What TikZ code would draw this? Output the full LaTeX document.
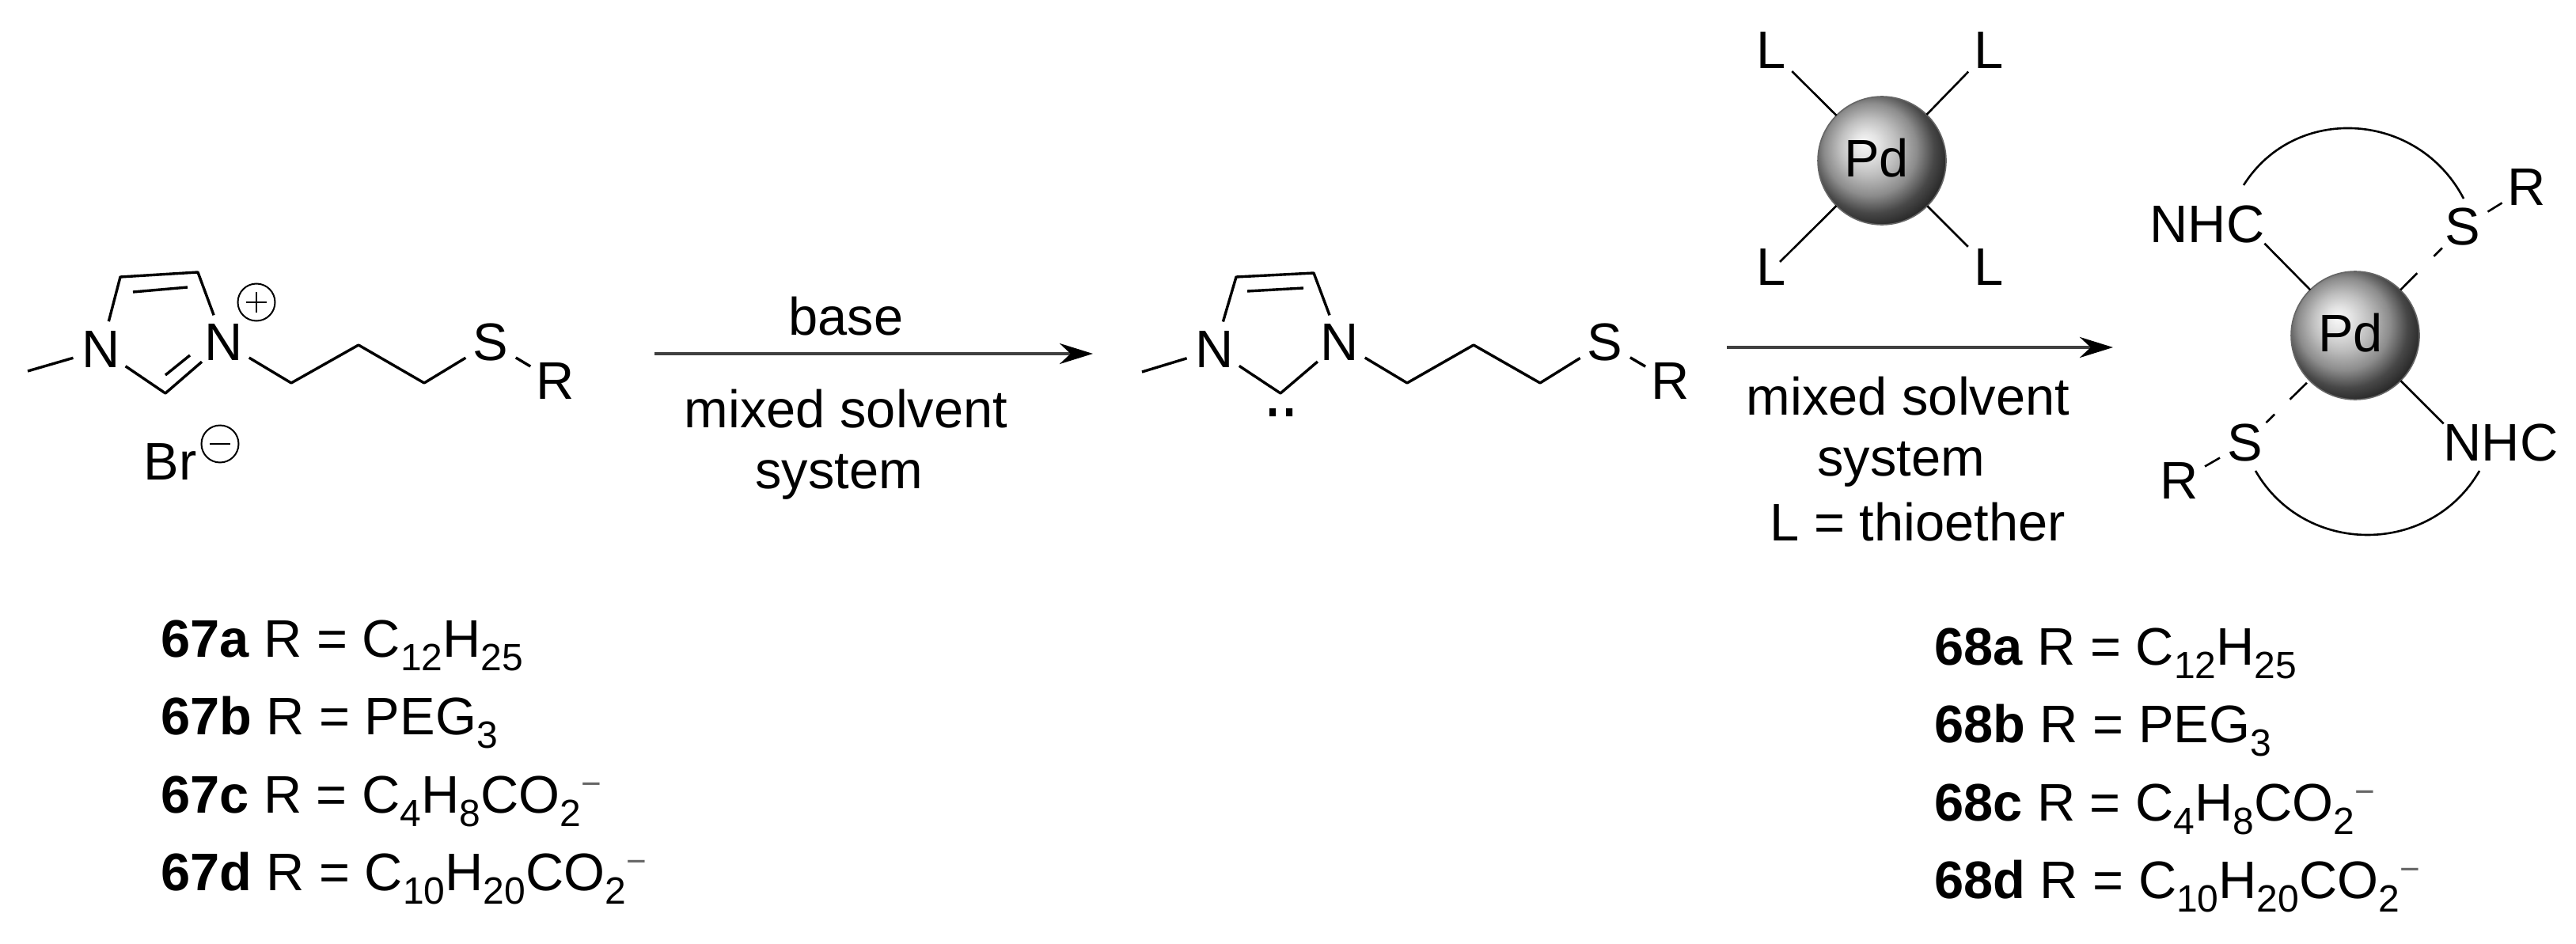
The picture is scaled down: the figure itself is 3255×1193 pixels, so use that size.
\documentclass[tikz,border=0pt]{standalone}
\usepackage{fontspec}
\setmainfont{Liberation Sans}
\usetikzlibrary{positioning,calc,arrows.meta}
\pgfdeclareradialshading{pdball}{\pgfpoint{-7bp}{7bp}}{color(0bp)=(gray!5!white); color(5bp)=(gray!22!white); color(11bp)=(gray!50!white); color(18bp)=(gray!90!white); color(24bp)=(black!72); color(31bp)=(black!90); color(50bp)=(black)}
\tikzset{post/.style={-{Stealth[length=21pt,width=13pt,black]},line width=2pt,black!75},
         bond/.style={line width=1.7pt},
         thin bond/.style={line width=1.3pt},
         atom/.style={circle,inner sep=0pt,outer sep=0pt,minimum size=37pt},
         lab/.style={inner sep=0pt,outer sep=0pt},
         metal/.style={circle,inner sep=0pt,outer sep=0pt,minimum size=81pt,shading=pdball,draw=black!60,line width=0.8pt},
         charge/.style={circle,draw,line width=1pt,inner sep=0pt,minimum size=23.5pt}
}
\newcommand{\txt}{\fontsize{33.4}{33.4}\selectfont}
\newcommand{\dn}[1]{\raisebox{-8.5pt}{\fontsize{24}{24}\selectfont #1}}
\newcommand{\up}{\raisebox{11pt}{\textcolor{black!60}{\fontsize{22}{22}\selectfont −}}}
\begin{document}
\begin{tikzpicture}[x=0.5pt,y=-0.5pt,every node/.append style={font=\txt}]
  \useasboundingbox (0,0) rectangle (3255,1193);
  % first salt
  \node[atom] (Na) at (128,442) {N};
  \node[atom] (Nb) at (283,433) {N};
  \node[atom] (Sa) at (620,433) {S};
  \node[atom] (Ra) at (702,482) {R};
  \coordinate (me) at (35,469);
  \coordinate (c4) at (152,350);
  \coordinate (c5) at (250,344);
  \coordinate (c2) at (209,497);
  \coordinate (ca) at (368,484);
  \coordinate (cb) at (453,436);
  \coordinate (cc) at (536,484);
  \coordinate (d1) at (168,369);
  \coordinate (d2) at (237,363);
  \coordinate (d3) at (209,474);
  \coordinate (d4) at (240,449);
  \draw[bond,line join=round] (me) -- (Na) (Na) -- (c4) -- (c5) -- (Nb) (Nb) -- (c2) -- (Na);
  \draw[bond] (d1) -- (d2) (d3) -- (d4);
  \draw[bond,line join=round] (Nb) -- (ca) -- (cb) -- (cc) -- (Sa) (Sa) -- (Ra);
  \node[charge] (plus) at (324,382) {};
  \draw[line width=1pt] ($(plus)+(-13,0)$) -- ($(plus)+(13,0)$) ($(plus)+(0,-13)$) -- ($(plus)+(0,13)$);
  \node[lab] (Br) at (215,584) {Br};
  \node[charge] (minus) at (278,561) {};
  \draw[line width=1pt] ($(minus)+(-13,0)$) -- ($(minus)+(13,0)$);

  % first arrow
  \coordinate (a1) at (827,447);
  \coordinate (a2) at (1381,447);
  \draw[post] (a1) -- (a2);
  \node[lab,anchor=base] (base) at (1069,423) {base};
  \node[lab,anchor=base] (sol1) at (1069,540) {mixed solvent};
  \node[lab,anchor=base] (sys1) at (1060,617) {system};

  % carbene
  \node[atom] (Nc) at (1535,442) {N};
  \node[atom] (Nd) at (1693,433) {N};
  \node[atom] (Sb) at (2028,433) {S};
  \node[atom] (Rb) at (2111,482) {R};
  \coordinate (mf) at (1443,470);
  \coordinate (e4) at (1562,350);
  \coordinate (e5) at (1660,345);
  \coordinate (e2) at (1618,497);
  \coordinate (ea) at (1778,484);
  \coordinate (eb) at (1862,436);
  \coordinate (ec) at (1946,484);
  \coordinate (f1) at (1576,368);
  \coordinate (f2) at (1647,364);
  \draw[bond,line join=round] (mf) -- (Nc) (Nc) -- (e4) -- (e5) -- (Nd) (Nd) -- (e2) -- (Nc);
  \draw[bond] (f1) -- (f2);
  \draw[bond,line join=round] (Nd) -- (ea) -- (eb) -- (ec) -- (Sb) (Sb) -- (Rb);
  \fill (1604,516) rectangle (1612,526) (1625,516) rectangle (1633,526);

  % Pd source
  \node[metal] (Pda) at (2378,203) {};
  \node[lab] (Pdt) at (2371,200) {Pd};
  \node[atom] (La) at (2238,64) {L};
  \node[atom] (Lb) at (2513,64) {L};
  \node[lab] (Lc) at (2238,338) {L};
  \node[atom] (Ld) at (2513,338) {L};
  \coordinate (lc) at (2249,331);
  \draw[thin bond] (La) -- (Pda);
  \draw[thin bond] (Lb) -- (Pda);
  \draw[thin bond] (lc) -- (Pda);
  \draw[thin bond] (Ld) -- (Pda);

  % second arrow
  \coordinate (b1) at (2182,439);
  \coordinate (b2) at (2670,439);
  \draw[post] (b1) -- (b2);
  \node[lab,anchor=base] (sol2) at (2411,524) {mixed solvent};
  \node[lab,anchor=base] (sys2) at (2402,601) {system};
  \node[lab,anchor=base] (thio) at (2423,683) {L = thioether};

  % complex
  \node[metal] (Pdb) at (2976,424) {};
  \node[lab] (Pds) at (2970,421) {Pd};
  \node[lab] (NHCa) at (2789,284) {NHC};
  \node[lab] (NHCb) at (3160,559) {NHC};
  \node[atom] (Sc) at (3112,287) {S};
  \node[atom] (Rc) at (3193,237) {R};
  \node[atom] (Sd) at (2837,560) {S};
  \node[atom] (Rd) at (2754,608) {R};
  \draw[thin bond] (NHCa.south east) -- (Pdb);
  \draw[thin bond] (Pdb) -- (NHCb.north west);
  \draw[thin bond] (Sc) -- (Rc);
  \draw[thin bond] (Sd) -- (Rd);
  \draw[thin bond,dash pattern=on 7.5pt off 15pt on 15pt off 60pt] (Sc) -- (Pdb);
  \draw[thin bond,dash pattern=on 7.5pt off 13.5pt on 15pt off 60pt] (Sd) -- (Pdb);
  \coordinate (t1) at (2835,234);
  \coordinate (t2) at (3113,251);
  \coordinate (u1) at (2850,595);
  \coordinate (u2) at (3133,595);
  \draw[thin bond] (t1) .. controls (2900,131) and (3055,140) .. (t2);
  \draw[thin bond] (u1) .. controls (2912,703) and (3071,703) .. (u2);

  % R lists
  \node[lab,anchor=base west] (l67a) at (203,830) {\textbf{67a} R = C\dn{12}H\dn{25}};
  \node[lab,anchor=base west] (l67b) at (203,928) {\textbf{67b} R = PEG\dn{3}};
  \node[lab,anchor=base west] (l67c) at (203,1027) {\textbf{67c} R = C\dn{4}H\dn{8}CO\dn{2}\up};
  \node[lab,anchor=base west] (l67d) at (203,1125) {\textbf{67d} R = C\dn{10}H\dn{20}CO\dn{2}\up};
  \node[lab,anchor=base west] (l68a) at (2444,840) {\textbf{68a} R = C\dn{12}H\dn{25}};
  \node[lab,anchor=base west] (l68b) at (2444,938) {\textbf{68b} R = PEG\dn{3}};
  \node[lab,anchor=base west] (l68c) at (2444,1037) {\textbf{68c} R = C\dn{4}H\dn{8}CO\dn{2}\up};
  \node[lab,anchor=base west] (l68d) at (2444,1135) {\textbf{68d} R = C\dn{10}H\dn{20}CO\dn{2}\up};
\end{tikzpicture}
\end{document}
